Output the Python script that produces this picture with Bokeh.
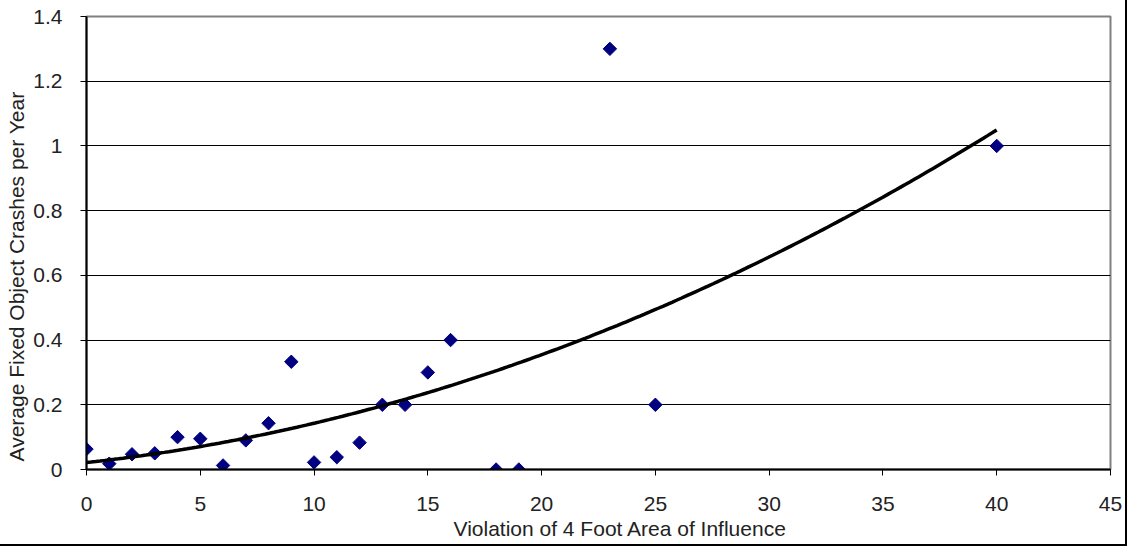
import numpy as np
from bokeh.plotting import figure
from bokeh.models import FixedTicker, Range1d, Title
from bokeh.embed import file_html
from bokeh.resources import INLINE

# Data
violations = [0, 1, 2, 3, 4, 5, 6, 7, 8, 9, 10, 11, 12, 13, 14, 15, 16, 18, 19, 23, 25, 40]
crashes = [0.063, 0.018, 0.047, 0.05, 0.1, 0.095, 0.0125, 0.09, 0.143, 0.333, 0.022,
           0.038, 0.083, 0.2, 0.2, 0.3, 0.4, 0.0, 0.0, 1.3, 0.2, 1.0]

x_ticks = [0, 5, 10, 15, 20, 25, 30, 35, 40, 45]
x_tick_labels = ["0", "5", "10", "15", "20", "25", "30", "35", "40", "45"]
y_ticks = [0, 0.2, 0.4, 0.6, 0.8, 1.0, 1.2, 1.4]
y_tick_labels = ["0", "0.2", "0.4", "0.6", "0.8", "1", "1.2", "1.4"]

x_title = "Violation of 4 Foot Area of Influence"
y_title = "Average Fixed Object Crashes per Year"

# Second-order polynomial trendline (least squares fit of the data)
coef = np.polyfit(violations, crashes, 2)
trend_x = np.linspace(min(violations), max(violations), 200)
trend_y = np.polyval(coef, trend_x)

FONT = "Liberation Sans"
FS = "21px"
TXT = "#222222"

p = figure(width=1125, height=544, output_backend="svg", toolbar_location=None,
           x_range=Range1d(0, 45), y_range=Range1d(0, 1.4),
           min_border_left=86, min_border_right=15, min_border_top=16, min_border_bottom=75)
p.styles = {"outline": "2px solid black"}
p.background_fill_color = "white"
p.border_fill_color = "white"
p.outline_line_color = "#808080"
p.outline_line_width = 2

# Axes
p.xaxis.ticker = FixedTicker(ticks=x_ticks)
p.xaxis.major_label_overrides = {t: l for t, l in zip(x_ticks, x_tick_labels)}
p.yaxis.ticker = FixedTicker(ticks=y_ticks)
p.yaxis.major_label_overrides = {t: l for t, l in zip(y_ticks, y_tick_labels)}
for ax in (p.xaxis, p.yaxis):
    ax.axis_line_color = "black"
    ax.axis_line_width = 2
    ax.major_tick_line_color = "black"
    ax.major_tick_in = 0
    ax.major_tick_out = 6
    ax.minor_tick_line_color = None
    ax.major_label_text_font = FONT
    ax.major_label_text_font_size = FS
    ax.major_label_text_color = TXT
p.xaxis.major_label_standoff = 21
p.yaxis.major_label_standoff = 18

# Axis titles as side titles, positioned as in the reference
p.add_layout(Title(text=x_title, align="left", offset=367, standoff=3,
                   text_font=FONT, text_font_size=FS, text_font_style="normal",
                   text_color=TXT), "below")
p.add_layout(Title(text=y_title, align="left", offset=8, standoff=5,
                   text_font=FONT, text_font_size=FS, text_font_style="normal",
                   text_color=TXT), "left")

# Grid
p.xgrid.grid_line_color = None
p.ygrid.ticker = FixedTicker(ticks=y_ticks[1:-1])
p.ygrid.grid_line_color = "black"
p.ygrid.grid_line_width = 1

# Data points
p.scatter(violations, crashes, marker="square", angle=np.pi / 4, size=9.5,
          fill_color="#000080", line_color="#000080")

# Trendline
p.line(trend_x, trend_y, line_color="black", line_width=3.5)

open("out.html", "w").write(file_html(p, INLINE))
